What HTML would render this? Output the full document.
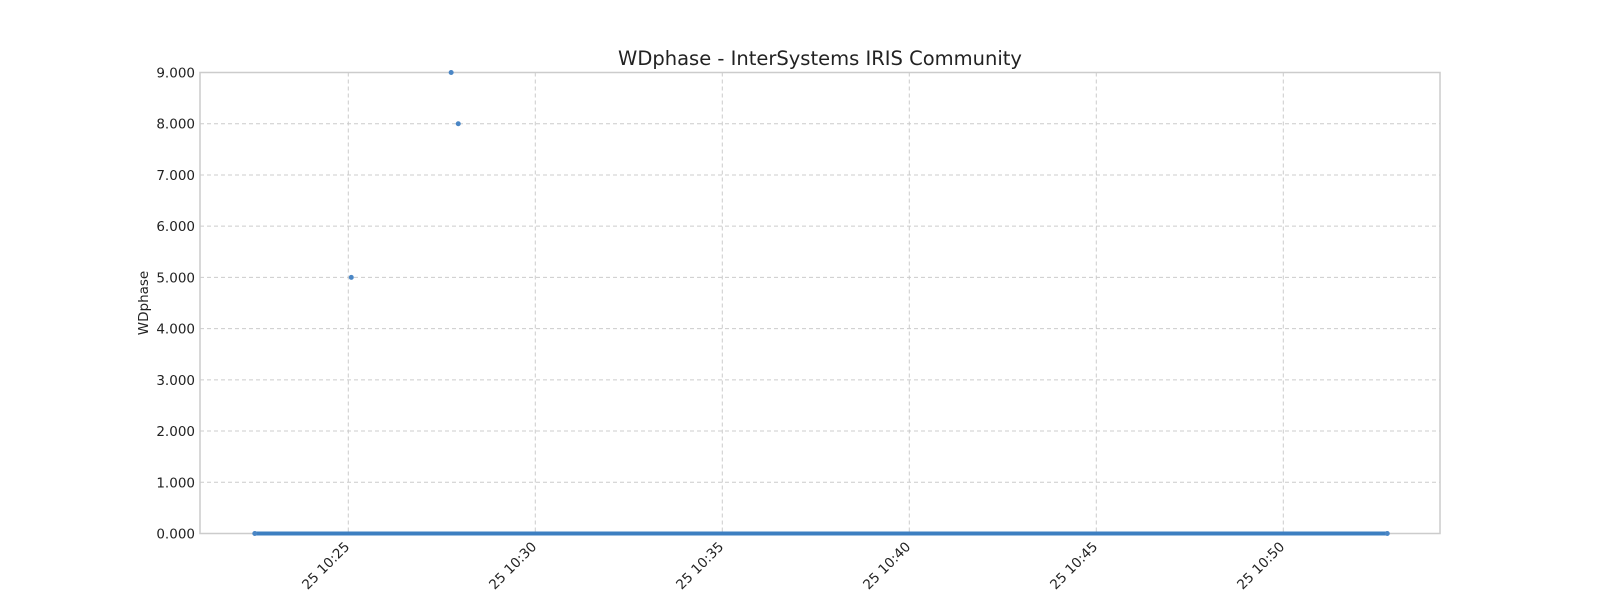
<!DOCTYPE html>
<html><head><meta charset="utf-8"><style>
html,body{margin:0;padding:0;background:#fff;overflow:hidden;width:1600px;height:600px}
svg{display:block;font-family:"DejaVu Sans","Liberation Sans",sans-serif}
</style></head><body>
<svg id="c" width="1600" height="600" xmlns="http://www.w3.org/2000/svg"></svg>
<script>
const yTicks=[0,1,2,3,4,5,6,7,8,9];
const xTickMinutes=[25,30,35,40,45,50];
const xTickLabels=["25 10:25","25 10:30","25 10:35","25 10:40","25 10:45","25 10:50"];
const sampleMinutes=[22.5,25.08,27.75,27.94,52.78];
const sampleValues=[0,5,9,8,0];
const L=200,R=1440,T=72.5,B=533.5;
const xs=m=>348.3+(m-25)*(187/5);
const ys=v=>B-(v/9)*(B-T);
const s=document.getElementById('c');const NS='http://www.w3.org/2000/svg';
function mk(t,a,p){const e=document.createElementNS(NS,t);for(const k in a)e.setAttribute(k,a[k]);(p||s).appendChild(e);return e;}
let e;
e=mk('text',{x:820,y:65,'text-anchor':'middle','font-size':19.5,fill:'#222'});e.textContent='WDphase - InterSystems IRIS Community';


yTicks.forEach(v=>{const y=ys(v);
 e=mk('line',{x1:L,x2:R,y1:y,y2:y,stroke:'#ccc','stroke-dasharray':'4,3'});
 
 
 e=mk('text',{x:L-5,y:y+5,'text-anchor':'end','font-size':13.5,fill:'#222'});e.textContent=v.toFixed(3);
 
 
});
xTickMinutes.forEach((m,i)=>{const x=xs(m);
 e=mk('line',{x1:x,x2:x,y1:T,y2:B,stroke:'#ccc','stroke-dasharray':'4,3'});
 
 
 e=mk('text',{x:x+2,y:B+14,'text-anchor':'end','font-size':13.5,fill:'#222',transform:`rotate(-45 ${x+2} ${B+14})`});e.textContent=xTickLabels[i];
 
 
});
e=mk('rect',{x:L,y:T,width:R-L,height:B-T,fill:'none',stroke:'#ccc','stroke-width':1.5});


e=mk('text',{x:148,y:303,'text-anchor':'middle','font-size':13.5,fill:'#222',transform:'rotate(-90 148 303)'});e.textContent='WDphase';


const zeros=sampleMinutes.filter((m,i)=>sampleValues[i]===0);
e=mk('line',{x1:xs(Math.min(...zeros)),x2:xs(Math.max(...zeros)),y1:ys(0),y2:ys(0),stroke:'#3d7fc1','stroke-width':4});


sampleMinutes.forEach((m,i)=>{
 e=mk('circle',{cx:xs(m),cy:ys(sampleValues[i]),r:2.5,fill:'#4a86c5'});
 
 
});
</script>
</body></html>
